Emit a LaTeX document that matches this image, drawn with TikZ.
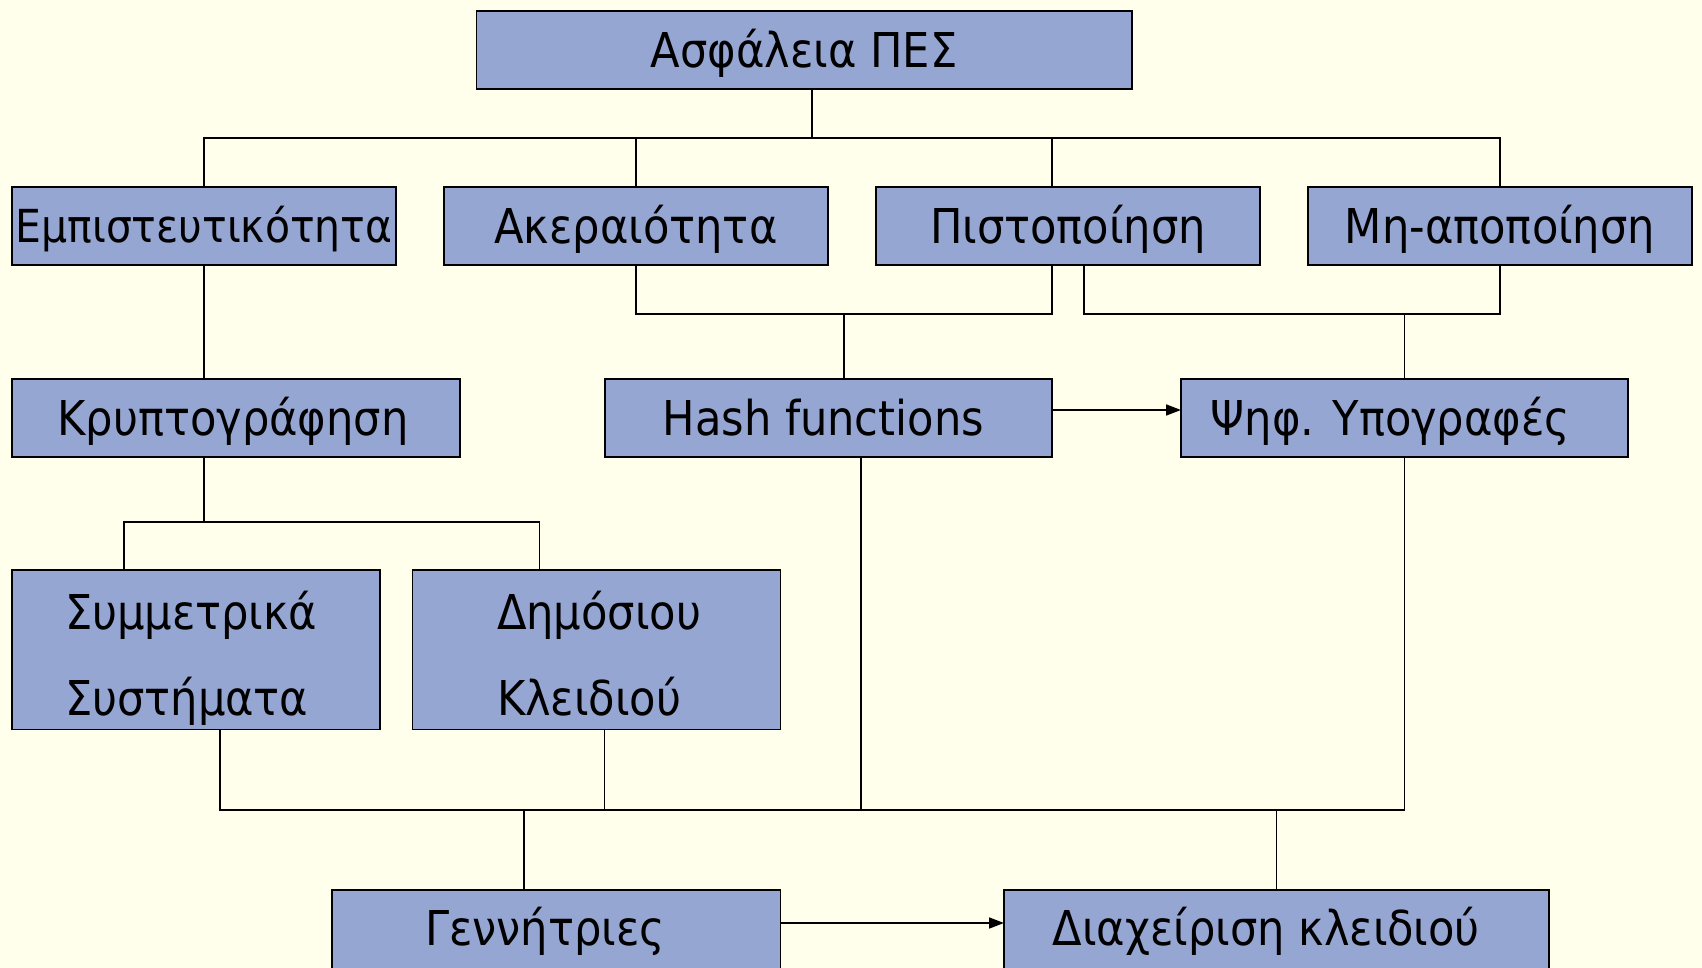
\documentclass[tikz,border=0pt]{standalone}
\usepackage{fontspec}
\setmainfont{DejaVu Sans Condensed}
\usetikzlibrary{arrows.meta}
\definecolor{bgcol}{RGB}{255,255,235}
\definecolor{boxfill}{RGB}{150,166,210}
\begin{document}
\begin{tikzpicture}[x=1pt,y=-1pt,
  box/.style={draw=black, fill=boxfill, line width=1.8pt, inner sep=0pt, outer sep=0pt,
    font=\fontsize{48}{58}\selectfont, text height=35pt, text depth=0pt},
  txt/.style={inner sep=0pt, outer sep=0pt, font=\fontsize{48}{58}\selectfont, anchor=base west},
  conn/.style={line width=1.7pt},
  arr/.style={conn, -{Triangle[length=15pt,width=11pt]}}]
\fill[bgcol] (0,0) rectangle (1702,968);
\useasboundingbox (0,0) rectangle (1702,968);

% nodes
\node[box, minimum width=655.5pt, minimum height=78pt] (top) at (804.25,50) {Ασφάλεια ΠΕΣ};

\node[box, minimum width=384pt, minimum height=78.2pt, font=\fontsize{45.5}{58}\selectfont, text height=33pt] (emp) at (204,225.8) {Εμπιστευτικότητα};
\node[box, minimum width=384pt, minimum height=78.2pt] (ak) at (636,225.8) {Ακεραιότητα};
\node[box, minimum width=384pt, minimum height=78.2pt] (pist) at (1068,225.8) {Πιστοποίηση};
\node[box, minimum width=384pt, minimum height=78.2pt] (mi) at (1500,225.8) {Μη-αποποίηση};

\node[box, minimum width=448pt, minimum height=78.2pt] (kr) at (236,418) {Κρυπτογράφηση\hspace*{6pt}};
\node[box, minimum width=447.4pt, minimum height=78.2pt] (hash) at (828.3,418) {Hash functions\hspace*{10pt}};
\node[box, minimum width=447pt, minimum height=78.2pt] (psi) at (1404.5,418) {Ψηφ. Υπογραφές\hspace*{28pt}};

\node[box, minimum width=368pt, minimum height=159.5pt] (sym) at (196,649.75) {};
\node[box, minimum width=368pt, minimum height=159.5pt] (dim) at (596.5,649.75) {};
\node[txt] (symA) at (65,629.6) {Συμμετρικά};
\node[txt] (symB) at (65,715.3) {Συστήματα};
\node[txt] (dimA) at (497,629.6) {Δημόσιου};
\node[txt] (dimB) at (497,715.3) {Κλειδιού};

\node[box, minimum width=448.5pt, minimum height=90pt, text depth=14pt] (gen) at (556.25,935) {Γεννήτριες\hspace*{22pt}};
\node[box, minimum width=545pt, minimum height=90pt, text depth=14pt] (diax) at (1276.5,935) {Διαχείριση κλειδιού\hspace*{20pt}};

% bus levels
\coordinate (bus1) at (0,138);
\coordinate (bus2) at (0,313.7);
\coordinate (bus3) at (0,522);
\coordinate (bus4) at (0,810);

% top tree
\draw[conn] ([xshift=8pt]top.south) -- ([xshift=8pt]top.south |- bus1);
\draw[conn] (emp.north) -- (emp.north |- bus1) -- (mi.north |- bus1) -- (mi.north);
\draw[conn] (ak.north) -- (ak.north |- bus1);
\draw[conn] ([xshift=-16pt]pist.north) -- ([xshift=-16pt]pist.north |- bus1);

% second level
\draw[conn] (emp.south) -- (emp.south |- kr.north);
\draw[conn] (ak.south) -- (ak.south |- bus2) -- ([xshift=-16pt]pist.south |- bus2) -- ([xshift=-16pt]pist.south);
\draw[conn] ([xshift=16pt]hash.north |- bus2) -- ([xshift=16pt]hash.north);
\draw[conn] ([xshift=16pt]pist.south) -- ([xshift=16pt]pist.south |- bus2) -- (mi.south |- bus2) -- (mi.south);
\draw[conn] (psi.north |- bus2) -- (psi.north);
\draw[arr] ([yshift=8pt]hash.east) -- ([yshift=8pt]psi.west);

% cryptography split
\draw[conn] ([xshift=-32pt]kr.south) -- ([xshift=-32pt]kr.south |- bus3);
\draw[conn] ([xshift=-72pt]sym.north) -- ([xshift=-72pt]sym.north |- bus3) -- ([xshift=-57pt]dim.north |- bus3) -- ([xshift=-57pt]dim.north);

% bottom bus
\draw[conn] ([xshift=24pt]sym.south) -- ([xshift=24pt]sym.south |- bus4) -- (psi.south |- bus4) -- (psi.south);
\draw[conn] ([xshift=8pt]dim.south) -- ([xshift=8pt]dim.south |- bus4);
\draw[conn] ([xshift=33pt]hash.south) -- ([xshift=33pt]hash.south |- bus4);
\draw[conn] ([xshift=-32pt]gen.north |- bus4) -- ([xshift=-32pt]gen.north);
\draw[conn] (diax.north |- bus4) -- (diax.north);
\draw[arr] ([yshift=12pt]gen.east) -- ([yshift=12pt]diax.west);
\end{tikzpicture}
\end{document}
